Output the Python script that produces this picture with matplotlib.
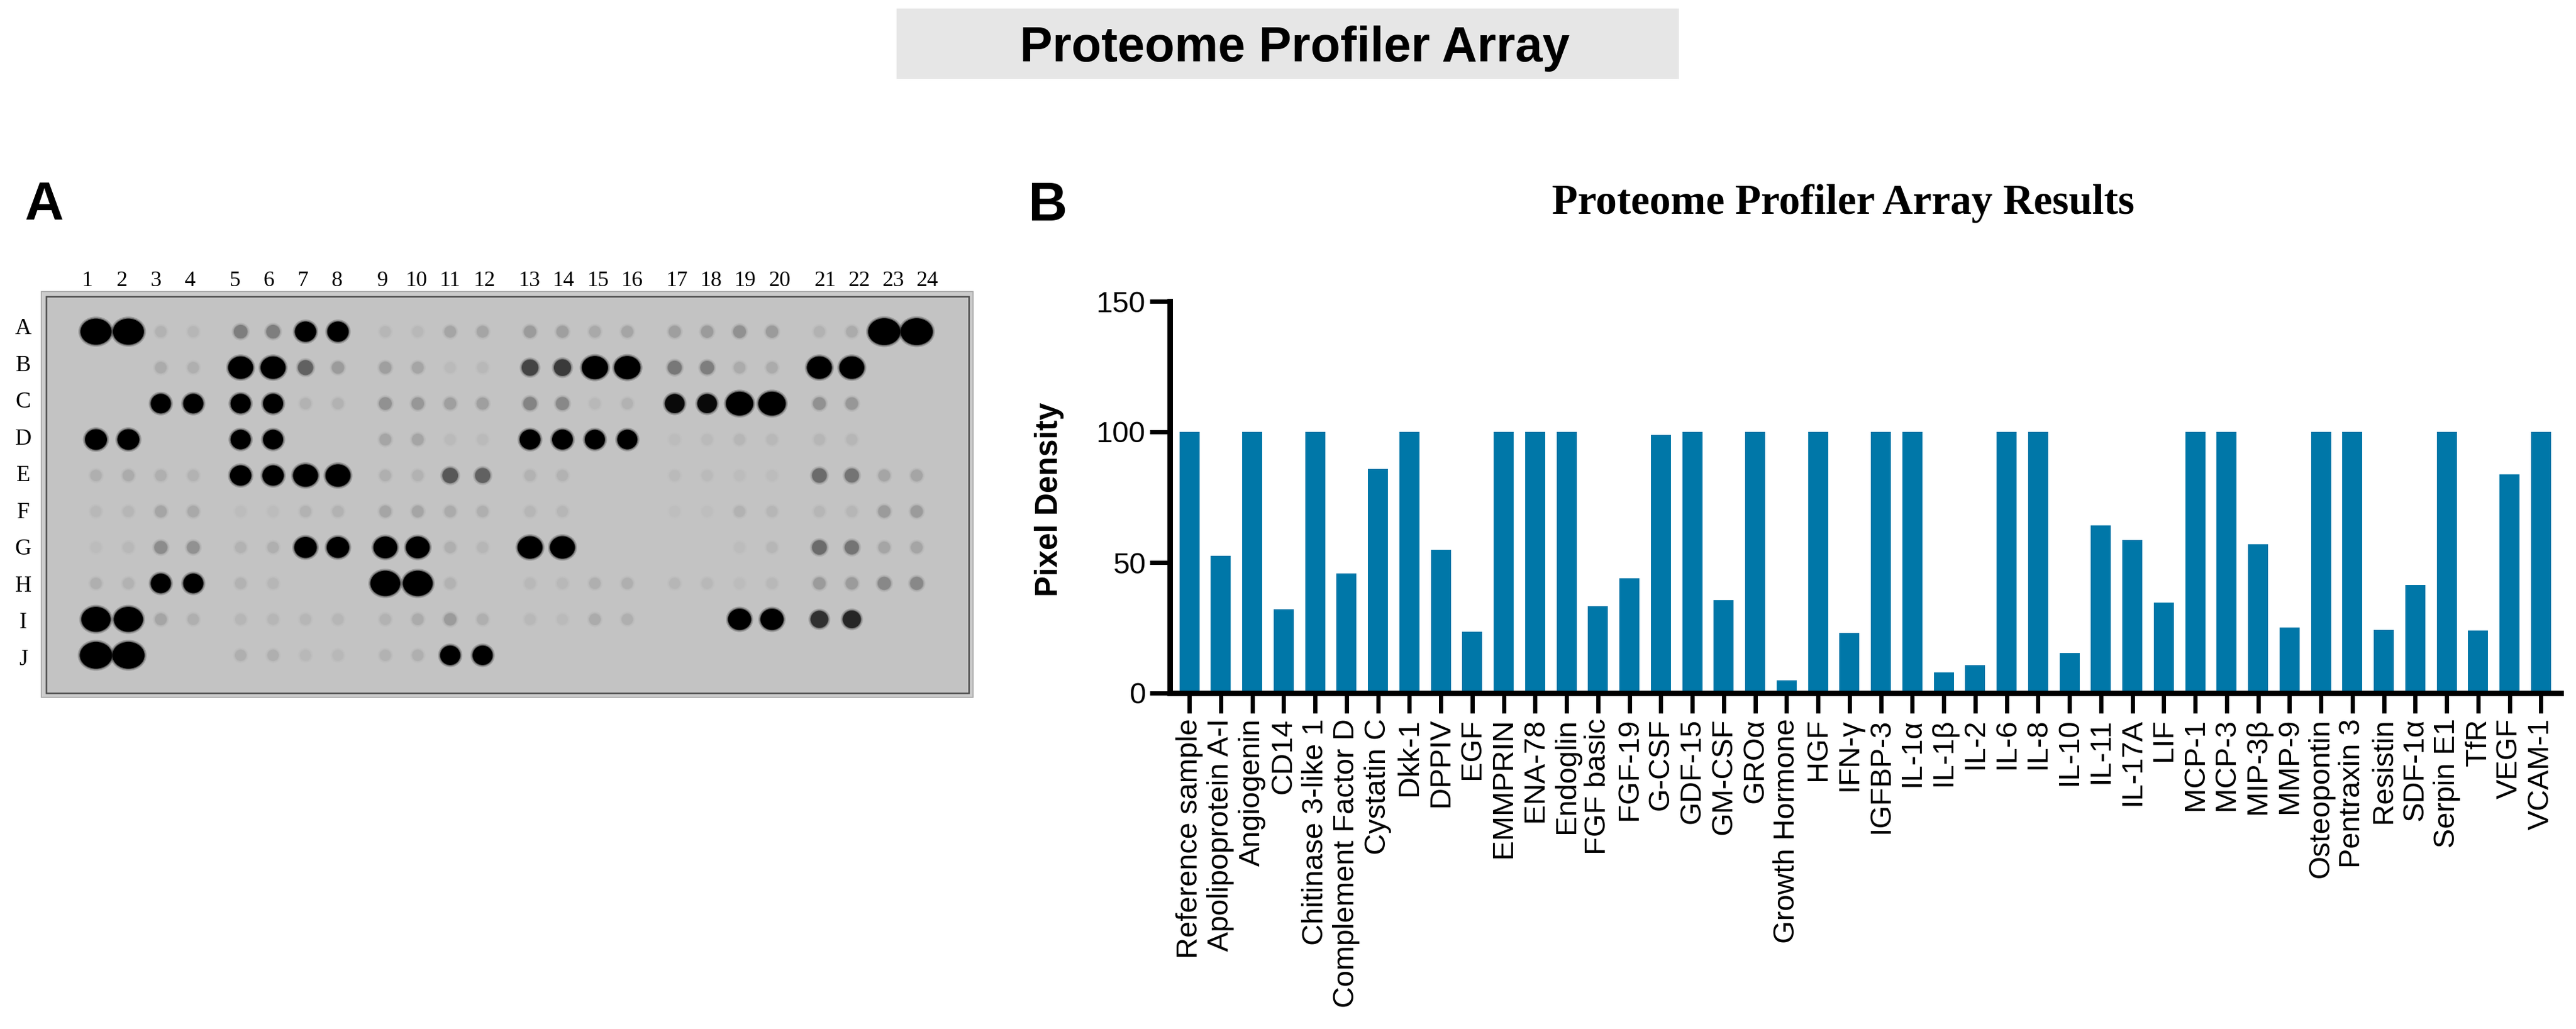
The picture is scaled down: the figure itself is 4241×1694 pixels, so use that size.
import matplotlib
matplotlib.use("Agg")
import matplotlib.pyplot as plt
from matplotlib.patches import Ellipse, Rectangle
import numpy as np

plt.rcParams['font.family'] = ['Liberation Sans', 'DejaVu Sans']

# ---------------- data ----------------
analytes = ["Reference sample", "Apolipoprotein A-I", "Angiogenin", "CD14",
            "Chitinase 3-like 1", "Complement Factor D", "Cystatin C", "Dkk-1",
            "DPPIV", "EGF", "EMMPRIN", "ENA-78", "Endoglin", "FGF basic", "FGF-19",
            "G-CSF", "GDF-15", "GM-CSF", "GROα", "Growth Hormone", "HGF", "IFN-γ",
            "IGFBP-3", "IL-1α", "IL-1β", "IL-2", "IL-6", "IL-8", "IL-10", "IL-11",
            "IL-17A", "LIF", "MCP-1", "MCP-3", "MIP-3β", "MMP-9", "Osteopontin",
            "Pentraxin 3", "Resistin", "SDF-1α", "Serpin E1", "TfR", "VEGF", "VCAM-1"]
pixel_density = [100, 52.6, 100, 32.1, 100, 45.8, 85.9, 100, 54.8, 23.6,
                 100, 100, 100, 33.2, 44.0, 98.9, 100, 35.6, 100, 5.0,
                 100, 23.0, 100, 100, 7.9, 10.8, 100, 100, 15.4, 64.1,
                 58.7, 34.6, 100, 100, 56.9, 25.2, 100, 100, 24.2, 41.4,
                 100, 24.0, 83.8, 100]

# blot spot intensity (0 = none, 1 = black, >1 = overexposed / larger spot)
row_letters = list("ABCDEFGHIJ")
col_numbers = [str(i) for i in range(1, 25)]
row_A = [1.9, 1.9, 0.08, 0.06, 0.35, 0.35, 1.1, 1.1, 0.06, 0.05, 0.15, 0.15,
         0.2, 0.18, 0.13, 0.15, 0.18, 0.2, 0.25, 0.2, 0.08, 0.12, 2.0, 2.0]
row_B = [0, 0, 0.12, 0.1, 1.4, 1.4, 0.5, 0.2, 0.18, 0.15, 0.04, 0.05,
         0.65, 0.7, 1.5, 1.5, 0.38, 0.35, 0.12, 0.12, 1.4, 1.4, 0, 0]
row_C = [0, 0, 1.0, 1.0, 1.0, 1.0, 0.08, 0.08, 0.25, 0.22, 0.18, 0.18,
         0.32, 0.3, 0.05, 0.08, 0.95, 0.95, 1.6, 1.6, 0.25, 0.22, 0, 0]
row_D = [1.15, 1.15, 0, 0, 1.0, 1.0, 0, 0, 0.15, 0.15, 0.04, 0.04,
         1.05, 1.05, 1.0, 1.0, 0.03, 0.04, 0.06, 0.05, 0.06, 0.06, 0, 0]
row_E = [0.1, 0.12, 0.1, 0.08, 1.1, 1.1, 1.4, 1.4, 0.1, 0.08, 0.55, 0.5,
         0.08, 0.08, 0, 0, 0.04, 0.04, 0.03, 0.03, 0.45, 0.4, 0.15, 0.15]
row_F = [0.05, 0.06, 0.15, 0.13, 0.03, 0.03, 0.08, 0.08, 0.15, 0.15, 0.12, 0.1,
         0.06, 0.06, 0, 0, 0.02, 0.02, 0.08, 0.06, 0.06, 0.06, 0.2, 0.2]
row_G = [0.03, 0.05, 0.28, 0.25, 0.08, 0.1, 1.2, 1.2, 1.3, 1.3, 0.1, 0.06,
         1.4, 1.4, 0, 0, 0, 0, 0.03, 0.06, 0.45, 0.4, 0.15, 0.15]
row_H = [0.1, 0.08, 1.0, 1.0, 0.08, 0.06, 0, 0, 1.8, 1.8, 0.08, 0,
         0.05, 0.05, 0.1, 0.1, 0.06, 0.05, 0.03, 0.05, 0.2, 0.2, 0.3, 0.3]
row_I = [1.75, 1.75, 0.15, 0.1, 0.06, 0.06, 0.06, 0.06, 0.08, 0.12, 0.2, 0.1,
         0.05, 0.04, 0.12, 0.1, 0, 0, 1.25, 1.25, 0.75, 0.8, 0, 0]
row_J = [2.0, 2.0, 0, 0, 0.1, 0.1, 0.05, 0.05, 0.08, 0.1, 1.0, 1.0,
         0, 0, 0, 0, 0, 0, 0, 0, 0, 0, 0, 0]
blot = [row_A, row_B, row_C, row_D, row_E, row_F, row_G, row_H, row_I, row_J]

# ---------------- figure ----------------
W, H = 4241, 1694
fig = plt.figure(figsize=(W / 100, H / 100), dpi=100)

# full-figure pixel canvas for panel A and free text
canvas = fig.add_axes([0, 0, 1, 1])
canvas.set_xlim(0, W)
canvas.set_ylim(H, 0)
canvas.axis('off')

canvas.add_patch(Rectangle((1476, 14), 1288, 116, facecolor='#e6e6e6', edgecolor='none'))
canvas.text(2132, 101, "Proteome Profiler Array", ha='center', va='baseline',
            fontsize=58, fontweight='bold')

canvas.text(41, 362, "A", ha='left', va='baseline', fontsize=64, fontweight='bold')
canvas.text(1693, 363, "B", ha='left', va='baseline', fontsize=64, fontweight='bold')

# blot membrane
canvas.add_patch(Rectangle((68, 480), 1534, 668, facecolor='#cdcdcd',
                           edgecolor='#a5a5a5', lw=1.2))
canvas.add_patch(Rectangle((76, 488), 1519, 653, facecolor='#c3c3c3',
                           edgecolor='#4d4d4d', lw=1.8))

gray = plt.get_cmap('gray')
for r, row in enumerate(blot):
    for c, v in enumerate(row):
        if v <= 0:
            continue
        x = 158 + 238.2 * (c // 4) + 53.4 * (c % 4)
        y = 546 + 59.2 * r
        core = min(v, 1.0)
        extra = max(v - 1.0, 0.0)
        w = 17 + 16 * core + 20 * extra
        h = 17 + 15 * core + 12 * extra
        col = gray(0.76 * (1 - core))
        canvas.add_patch(Ellipse((x, y), w + 7, h + 7, facecolor=col, alpha=0.2, lw=0))
        canvas.add_patch(Ellipse((x, y), w + 3, h + 3, facecolor=col, alpha=0.35, lw=0))
        canvas.add_patch(Ellipse((x, y), w, h, facecolor=col, lw=0))

for r, letter in enumerate(row_letters):
    canvas.text(38, 541 + 60.5 * r, letter, ha='center', va='center', fontsize=27,
                family='Liberation Serif')
for c, num in enumerate(col_numbers):
    canvas.text(144 + 242.8 * (c // 4) + 56 * (c % 4), 471, num, ha='center',
                va='baseline', fontsize=26, family='Liberation Serif')

# ---------------- panel B ----------------
ax = fig.add_axes([1926 / W, (H - 1141) / H, (4216 - 1926) / W, (1141 - 496) / H])
x = np.arange(len(analytes))
ax.bar(x, pixel_density, width=0.64, color='#0077a8', edgecolor='none', zorder=1)
ax.set_xlim(-0.62, len(analytes) - 0.37)
ax.set_ylim(0, 150)
ax.set_yticks([0, 50, 100, 150])
ax.set_xticks(x)
ax.set_xticklabels(analytes, rotation=90, ha='center', va='top')
for side in ['top', 'right']:
    ax.spines[side].set_visible(False)
for side in ['left', 'bottom']:
    ax.spines[side].set_linewidth(6.5)
    ax.spines[side].set_capstyle('projecting')
ax.tick_params(axis='both', width=5, length=24, direction='out', color='black')
ax.tick_params(axis='y', labelsize=35, pad=5)
ax.tick_params(axis='x', labelsize=35, pad=6)

canvas.text(1728, 822, "Pixel Density", rotation=90, ha='center', va='center',
            fontsize=37, fontweight='bold')
canvas.text(3035, 352, "Proteome Profiler Array Results", ha='center', va='baseline',
            fontsize=50, fontweight='bold', family='Liberation Serif')

fig.savefig("out.png", dpi=100)
